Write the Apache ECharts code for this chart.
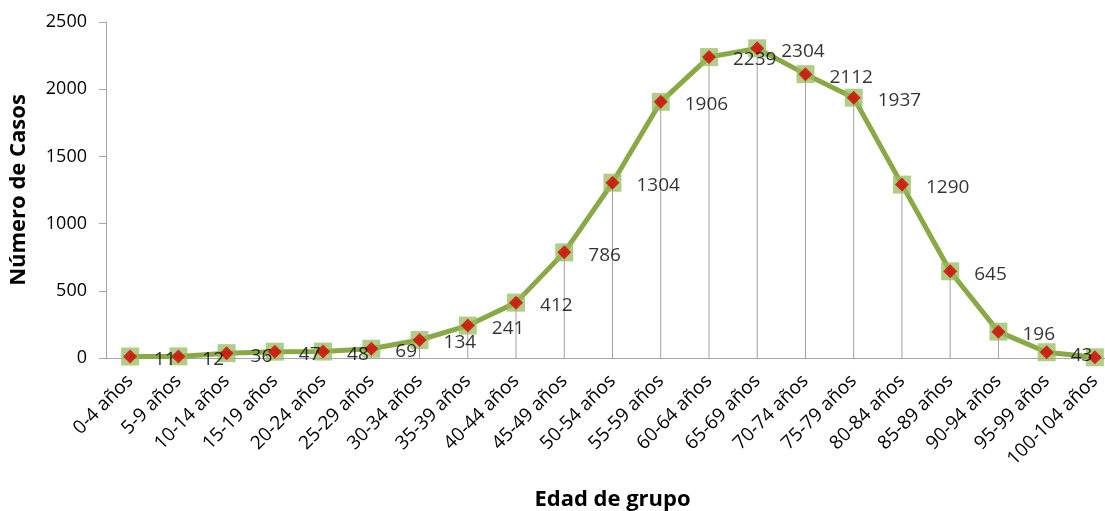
<!DOCTYPE html>
<html>
<head>
<meta charset="utf-8">
<script src="https://cdn.jsdelivr.net/npm/echarts@6/dist/echarts.min.js"></script>
<style>
  html, body { margin: 0; padding: 0; background: #fff; }
  #chart { width: 1105px; height: 511px; }
</style>
</head>
<body>
<div id="chart"></div>
<script>
// Age groups and number of cases per group
const ageGroups = ['0-4 años', '5-9 años', '10-14 años', '15-19 años', '20-24 años', '25-29 años',
  '30-34 años', '35-39 años', '40-44 años', '45-49 años', '50-54 años', '55-59 años',
  '60-64 años', '65-69 años', '70-74 años', '75-79 años', '80-84 años', '85-89 años',
  '90-94 años', '95-99 años', '100-104 años'];
const cases = [11, 12, 36, 47, 48, 69, 134, 241, 412, 786, 1304, 1906,
  2239, 2304, 2112, 1937, 1290, 645, 196, 43, 5];
// The last group carries no value label
const labelled = cases.map((v, i) => i < cases.length - 1);

const yTicks = [0, 500, 1000, 1500, 2000, 2500];

const FONT = '"Open Sans", "Noto Sans", sans-serif';
const chart = echarts.init(document.getElementById('chart'));

chart.setOption({
  animation: false,
  backgroundColor: '#ffffff',
  grid: {
    left: 106, top: 22, width: 1013, bottom: 153,
    containLabel: false, outerBoundsMode: 'none'
  },
  xAxis: {
    type: 'category',
    data: ageGroups,
    boundaryGap: true,
    name: 'Edad de grupo',
    nameLocation: 'middle',
    nameGap: 131,
    nameTextStyle: { fontFamily: FONT, fontSize: 22, fontWeight: 'bold', color: '#000' },
    axisLine: { lineStyle: { color: '#a6a6a6', width: 1 } },
    axisTick: { show: false },
    axisLabel: { rotate: 45, margin: 20, fontFamily: FONT, fontSize: 19, color: '#000', interval: 0 }
  },
  yAxis: {
    type: 'value',
    min: yTicks[0],
    max: yTicks[yTicks.length - 1],
    interval: yTicks[1] - yTicks[0],
    name: 'Número de Casos',
    nameLocation: 'middle',
    nameGap: 76,
    nameTextStyle: { fontFamily: FONT, fontSize: 22, fontWeight: 'bold', color: '#000' },
    axisLine: { show: true, lineStyle: { color: '#a6a6a6', width: 1 } },
    axisTick: { show: true, length: 7, lineStyle: { color: '#a6a6a6' } },
    splitLine: { show: false },
    axisLabel: { margin: 19, fontFamily: FONT, fontSize: 18, color: '#000', formatter: v => String(v) }
  },
  series: [
    {
      // drop lines from each point down to the axis
      type: 'bar',
      data: cases,
      barWidth: 1,
      itemStyle: { color: '#a0a0a0' },
      silent: true,
      z: 1
    },
    {
      type: 'line',
      data: cases,
      symbol: 'rect',
      symbolSize: 18,
      itemStyle: { color: 'rgba(150,188,95,0.75)', borderWidth: 0 },
      lineStyle: { color: '#88a946', width: 5 },
      z: 2
    },
    {
      type: 'scatter',
      data: cases,
      symbol: 'diamond',
      symbolSize: 14,
      itemStyle: { color: '#d40000' },
      label: {
        show: true,
        position: 'right',
        distance: 17,
        offset: [0, 3],
        fontFamily: FONT,
        fontSize: 19,
        color: '#000',
        formatter: p => labelled[p.dataIndex] ? String(p.value) : ''
      },
      z: 3
    }
  ]
});
</script>
</body>
</html>
